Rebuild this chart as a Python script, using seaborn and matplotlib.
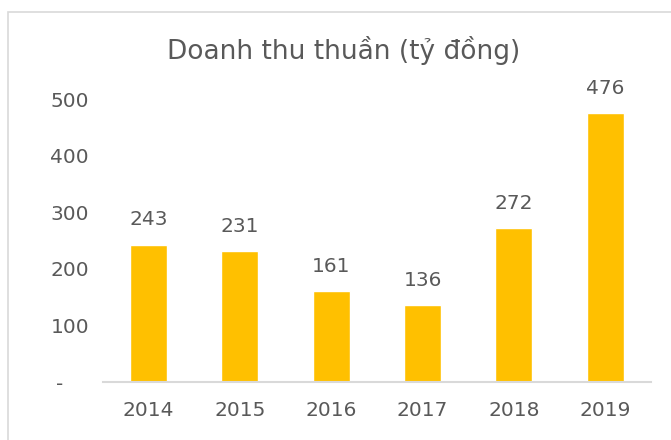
import matplotlib.pyplot as plt
import matplotlib.patches as mpatches
import seaborn as sns

# Data
years = ["2014", "2015", "2016", "2017", "2018", "2019"]
revenue = [243, 231, 161, 136, 272, 476]
y_ticks = [0, 100, 200, 300, 400, 500]
y_tick_labels = ["-\u2007\u2007", "100", "200", "300", "400", "500"]

TEXT_GREY = "#595959"
LINE_GREY = "#D9D9D9"
BAR_COLOR = "#FFC000"

sns.set_style("white")
plt.rcParams['font.family'] = ['DejaVu Sans']

fig = plt.figure(figsize=(6.71, 4.40), dpi=100)
ax = fig.add_axes([0.1535, 0.1318, 0.8165, 0.6422])

sns.barplot(x=years, y=revenue, color=BAR_COLOR, width=0.405, saturation=1, ax=ax)

ax.set_ylim(0, 500)
ax.set_yticks(y_ticks)
ax.set_yticklabels(y_tick_labels)
ax.tick_params(axis='both', length=0, labelsize=14.5, labelcolor=TEXT_GREY)
ax.tick_params(axis='x', pad=14)
ax.tick_params(axis='y', pad=10)
ax.set_xlabel("")
ax.set_ylabel("")

sns.despine(ax=ax, left=True, top=True, right=True)
ax.spines['bottom'].set_color(LINE_GREY)
ax.spines['bottom'].set_linewidth(1.5)

ax.bar_label(ax.containers[0], padding=11, fontsize=14.5, color=TEXT_GREY)

fig.text(0.5127, 0.886, "Doanh thu thuần (tỷ đồng)", ha='center', va='center',
         fontsize=19, color=TEXT_GREY)

# chart-area border (cut off at right and bottom like the reference)
border = mpatches.Rectangle((0.012, -0.1), 1.2, 0.9727 + 0.1, transform=fig.transFigure,
                            fill=False, edgecolor=LINE_GREY, linewidth=1.2, clip_on=False)
fig.patches.append(border)

fig.savefig("out.png", dpi=100)
